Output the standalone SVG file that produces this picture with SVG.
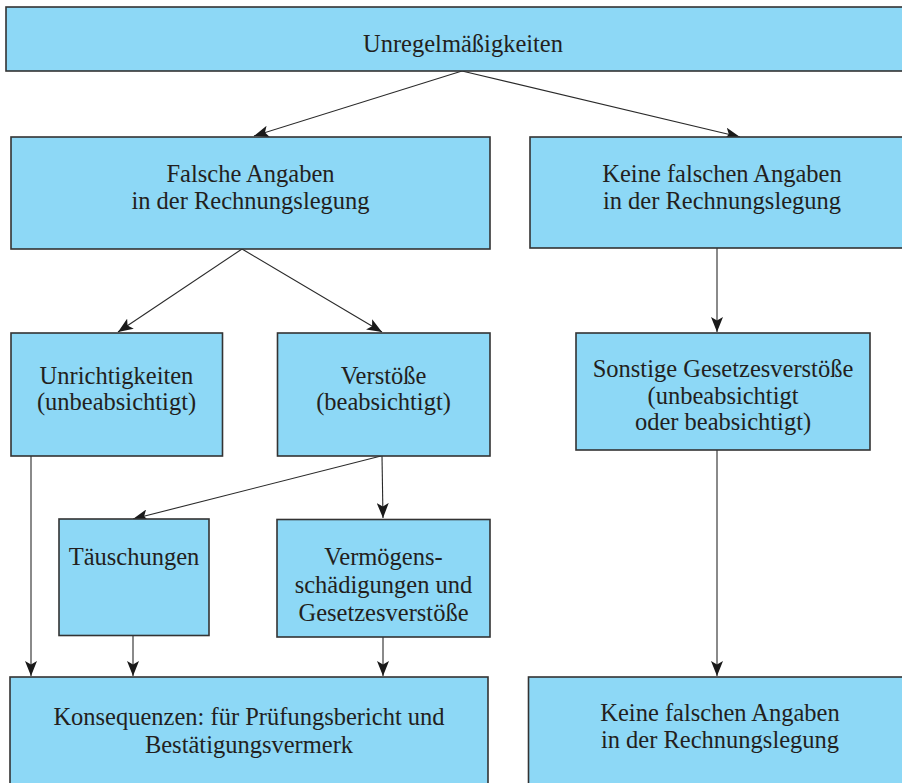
<svg xmlns="http://www.w3.org/2000/svg" width="902" height="783" viewBox="0 0 902 783" font-family="Liberation Serif, serif">
<style>
.box{fill:#8dd8f6;stroke:#333333;stroke-width:1.6}
.t{font-size:24.5px;fill:#231f20;text-anchor:middle}
.c{fill:none;stroke:#2a2a2a;stroke-width:1.1}
</style>
<defs>
<marker id="ah" markerUnits="userSpaceOnUse" markerWidth="16" markerHeight="12" refX="15" refY="6" orient="auto">
<path d="M0,0 L15,6 L0,12 L3.5,6 Z" fill="#1a1a1a"/>
</marker>
</defs>
<rect width="902" height="783" fill="#ffffff"/>
<g id="connectors">
<line class="c" x1="462" y1="71" x2="254" y2="136" marker-end="url(#ah)"/>
<line class="c" x1="462" y1="71" x2="740" y2="137" marker-end="url(#ah)"/>
<line class="c" x1="242" y1="249" x2="118" y2="332" marker-end="url(#ah)"/>
<line class="c" x1="242" y1="249" x2="382" y2="332" marker-end="url(#ah)"/>
<line class="c" x1="717" y1="248" x2="717" y2="332" marker-end="url(#ah)"/>
<line class="c" x1="381" y1="456" x2="133" y2="519" marker-end="url(#ah)"/>
<line class="c" x1="382" y1="456" x2="383" y2="518" marker-end="url(#ah)"/>
<line class="c" x1="31" y1="456" x2="31" y2="676" marker-end="url(#ah)"/>
<line class="c" x1="133" y1="635" x2="133" y2="676" marker-end="url(#ah)"/>
<line class="c" x1="383" y1="637" x2="383" y2="676" marker-end="url(#ah)"/>
<line class="c" x1="717" y1="450" x2="717" y2="676" marker-end="url(#ah)"/>
</g>
<g id="unregelmaessigkeiten">
<rect class="box" x="6" y="7" width="920" height="64"/>
<text class="t" x="463" y="52" font-family="Liberation Serif, serif">Unregelmäßigkeiten</text>
</g>
<g id="falsche-angaben" font-family="Liberation Serif, serif">
<rect class="box" x="11" y="137" width="479" height="112"/>
<text class="t" x="250.5" y="182">Falsche Angaben</text>
<text class="t" x="250.5" y="209">in der Rechnungslegung</text>
</g>
<g id="keine-falschen-angaben-1" font-family="Liberation Serif, serif">
<rect class="box" x="530" y="137" width="400" height="111"/>
<text class="t" x="722" y="182">Keine falschen Angaben</text>
<text class="t" x="722" y="209">in der Rechnungslegung</text>
</g>
<g id="unrichtigkeiten" font-family="Liberation Serif, serif">
<rect class="box" x="11" y="333" width="211.5" height="123"/>
<text class="t" x="116.5" y="383.5">Unrichtigkeiten</text>
<text class="t" x="116.5" y="410">(unbeabsichtigt)</text>
</g>
<g id="verstoesse" font-family="Liberation Serif, serif">
<rect class="box" x="277.5" y="333" width="212.5" height="123"/>
<text class="t" x="383.5" y="383.5">Verstöße</text>
<text class="t" x="383.5" y="410">(beabsichtigt)</text>
</g>
<g id="sonstige" font-family="Liberation Serif, serif">
<rect class="box" x="576" y="333" width="294" height="117"/>
<text class="t" x="723" y="377">Sonstige Gesetzesverstöße</text>
<text class="t" x="723" y="403.5">(unbeabsichtigt</text>
<text class="t" x="723" y="430">oder beabsichtigt)</text>
</g>
<g id="taeuschungen" font-family="Liberation Serif, serif">
<rect class="box" x="59" y="519" width="150" height="116.5"/>
<text class="t" x="134" y="565">Täuschungen</text>
</g>
<g id="vermoegensschaedigungen" font-family="Liberation Serif, serif">
<rect class="box" x="277" y="519.5" width="213" height="117.5"/>
<text class="t" x="383.5" y="565">Vermögens-</text>
<text class="t" x="383.5" y="593">schädigungen und</text>
<text class="t" x="383.5" y="621">Gesetzesverstöße</text>
</g>
<g id="konsequenzen" font-family="Liberation Serif, serif">
<rect class="box" x="10" y="677" width="478" height="130"/>
<text class="t" x="249" y="725">Konsequenzen: für Prüfungsbericht und</text>
<text class="t" x="249" y="752.5">Bestätigungsvermerk</text>
</g>
<g id="keine-falschen-angaben-2" font-family="Liberation Serif, serif">
<rect class="box" x="528.5" y="677" width="400" height="130"/>
<text class="t" x="720" y="721">Keine falschen Angaben</text>
<text class="t" x="720" y="748">in der Rechnungslegung</text>
</g>
</svg>
